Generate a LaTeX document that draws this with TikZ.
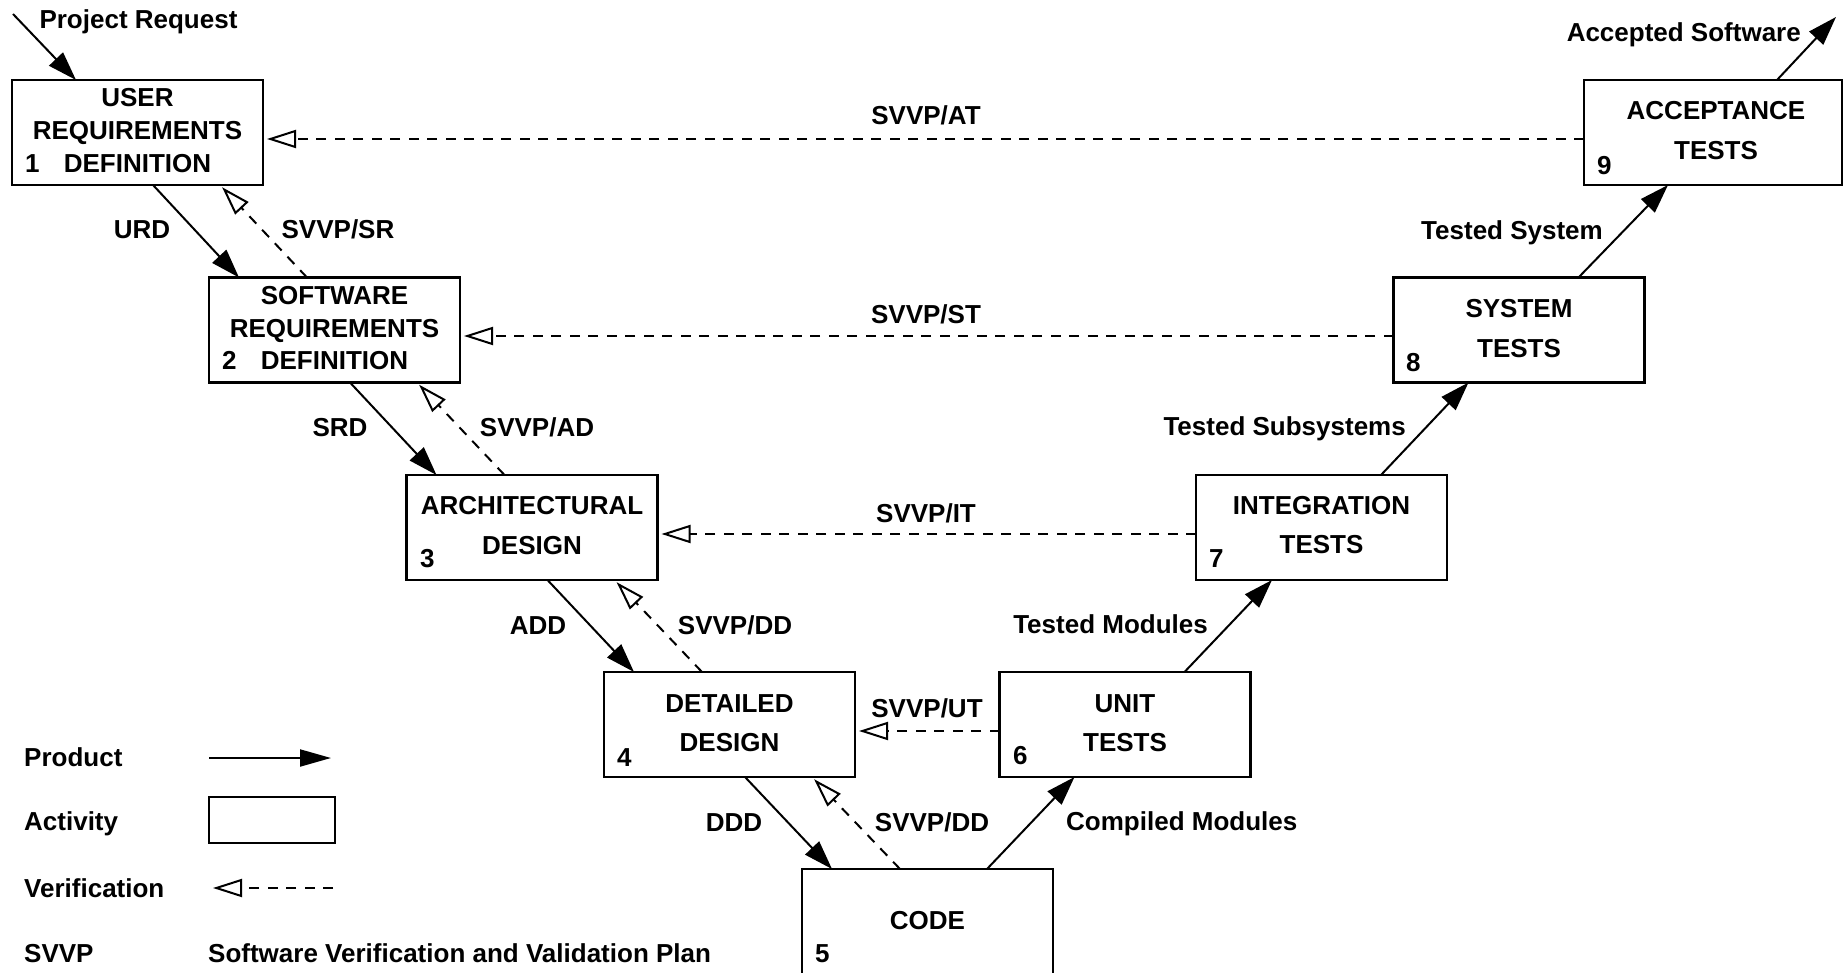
\documentclass[tikz,border=0pt]{standalone}
\usepackage{fontspec}
\setmainfont{Liberation Sans}
\usetikzlibrary{arrows.meta}
\begin{document}
\begin{tikzpicture}[x=1pt,y=-1pt,
  font=\fontsize{26}{31}\selectfont\bfseries,
  act/.style={draw, line width=2.1pt, minimum width=251pt, minimum height=105pt, inner sep=0pt, outer sep=0pt},
  txt/.style={inner sep=0pt, anchor=base},
  num/.style={inner sep=0pt, anchor=base west},
  rlab/.style={inner sep=0pt, anchor=base east},
  llab/.style={inner sep=0pt, anchor=base west},
  prod/.style={line width=2pt, -{Triangle[length=29pt,width=19pt]}},
  verif/.style={line width=2pt, dash pattern=on 10pt off 8.5pt, -{Triangle[open,length=29pt,width=18pt]}},
  vgap/.style={shorten >=4pt}]
\useasboundingbox (0,0) rectangle (1845,973);

% activity boxes
\node[act] (b1) at (137.5,132.5) {};
\node[act] (b2) at (334.5,330) {};
\node[act] (b3) at (532,527.5) {};
\node[act] (b4) at (729.5,724.5) {};
\node[act, minimum height=110pt] (b5) at (927.5,924) {};
\node[act] (b6) at (1125,724.5) {};
\node[act] (b7) at (1321.5,527.5) {};
\node[act] (b8) at (1519,330) {};
\node[act, minimum width=258pt] (b9) at (1713,132.5) {};

% box texts
\node[txt] (t1a) at (137.5,106.3) {USER};
\node[txt] (t1b) at (137.5,139.3) {REQUIREMENTS};
\node[txt] (t1c) at (137.5,172.3) {DEFINITION};
\node[num] (n1) at (25,172.3) {1};

\node[txt] (t2a) at (334.5,304.3) {SOFTWARE};
\node[txt] (t2b) at (334.5,337.3) {REQUIREMENTS};
\node[txt] (t2c) at (334.5,369.3) {DEFINITION};
\node[num] (n2) at (222,369.3) {2};

\node[txt] (t3a) at (532,514.3) {ARCHITECTURAL};
\node[txt] (t3b) at (532,554.3) {DESIGN};
\node[num] (n3) at (420,567.3) {3};

\node[txt] (t4a) at (729.5,712.3) {DETAILED};
\node[txt] (t4b) at (729.5,751.3) {DESIGN};
\node[num] (n4) at (617,766.3) {4};

\node[txt] (t5a) at (927.5,929.3) {CODE};
\node[num] (n5) at (815,962.3) {5};

\node[txt] (t6a) at (1125,712.3) {UNIT};
\node[txt] (t6b) at (1125,751.3) {TESTS};
\node[num] (n6) at (1013,764.3) {6};

\node[txt] (t7a) at (1321.5,514.3) {INTEGRATION};
\node[txt] (t7b) at (1321.5,553.3) {TESTS};
\node[num] (n7) at (1209,567.3) {7};

\node[txt] (t8a) at (1519,317.3) {SYSTEM};
\node[txt] (t8b) at (1519,357.3) {TESTS};
\node[num] (n8) at (1406,371.3) {8};

\node[txt] (t9a) at (1716,119.3) {ACCEPTANCE};
\node[txt] (t9b) at (1716,159.3) {TESTS};
\node[num] (n9) at (1597,174.3) {9};

% free ends
\coordinate (pin) at (13,14);
\coordinate (pout) at (1836,17);

% product arrows (down)
\draw[prod] (pin) -- ([xshift=64pt]b1.north west);
\draw[prod] ([xshift=141pt]b1.south west) -- ([xshift=30pt]b2.north west);
\draw[prod] ([xshift=141pt]b2.south west) -- ([xshift=30pt]b3.north west);
\draw[prod] ([xshift=141pt]b3.south west) -- ([xshift=30pt]b4.north west);
\draw[prod] ([xshift=141pt]b4.south west) -- ([xshift=30pt]b5.north west);
% product arrows (up)
\draw[prod] ([xshift=185pt]b5.north west) -- ([xshift=75pt]b6.south west);
\draw[prod] ([xshift=185pt]b6.north west) -- ([xshift=76pt]b7.south west);
\draw[prod] ([xshift=185pt]b7.north west) -- ([xshift=75pt]b8.south west);
\draw[prod] ([xshift=185pt]b8.north west) -- ([xshift=84pt]b9.south west);
\draw[prod] ([xshift=193pt]b9.north west) -- (pout);

% verification (diagonal)
\draw[verif, shorten >=3pt] ([xshift=98pt]b2.north west) -- ([xshift=208pt]b1.south west);
\draw[verif, shorten >=3pt] ([xshift=98pt]b3.north west) -- ([xshift=208pt]b2.south west);
\draw[verif, shorten >=3pt] ([xshift=98pt]b4.north west) -- ([xshift=208pt]b3.south west);
\draw[verif, shorten >=3pt] ([xshift=98pt]b5.north west) -- ([xshift=208pt]b4.south west);

% verification (horizontal)
\draw[verif, vgap] ([yshift=-6.5pt]b9.west) -- ([yshift=-6.5pt]b1.east);
\draw[verif, vgap] ([yshift=-6pt]b8.west) -- ([yshift=-6pt]b2.east);
\draw[verif, vgap] ([yshift=-6.5pt]b7.west) -- ([yshift=-6.5pt]b3.east);
\draw[verif, vgap] ([yshift=-6.5pt]b6.west) -- ([yshift=-6.5pt]b4.east);

% labels
\node[txt] (lpr) at (138.5,28.3) {Project Request};
\node[txt] (lurd) at (142,238.3) {URD};
\node[txt] (lsr) at (338,238.3) {SVVP/SR};
\node[txt] (lsrd) at (340,436.3) {SRD};
\node[txt] (lad) at (537,436.3) {SVVP/AD};
\node[txt] (ladd) at (538,634.3) {ADD};
\node[txt] (ldd1) at (735,634.3) {SVVP/DD};
\node[txt] (lddd) at (734,831.3) {DDD};
\node[txt] (ldd2) at (932,831.3) {SVVP/DD};
\node[txt] (lat) at (926,124.3) {SVVP/AT};
\node[txt] (lst) at (926,323.3) {SVVP/ST};
\node[txt] (lit) at (926,522.3) {SVVP/IT};
\node[txt] (lut) at (927,717.3) {SVVP/UT};
\node[rlab] (ltsy) at (1603,239.3) {Tested System};
\node[rlab] (ltss) at (1406,435.3) {Tested Subsystems};
\node[rlab] (ltm) at (1208,633.3) {Tested Modules};
\node[llab] (lcm) at (1066,830.3) {Compiled Modules};
\node[rlab] (las) at (1801,41.8) {Accepted Software};

% legend
\node[llab] (gp) at (24,766.3) {Product};
\node[llab] (ga) at (24,830.3) {Activity};
\node[llab] (gv) at (24,897.3) {Verification};
\node[llab] (gs) at (24,962.3) {SVVP};
\node[llab] (gsd) at (208,962.3) {Software Verification and Validation Plan};
\coordinate (gp1) at (209,758);
\coordinate (gp2) at (331,758);
\draw[line width=2pt, -{Triangle[length=31pt,width=17pt]}] (gp1) -- (gp2);
\node[act, minimum width=126pt, minimum height=46pt] (gbox) at (272,820) {};
\coordinate (gv1) at (333,888);
\coordinate (gv2) at (213,888);
\draw[verif] (gv1) -- (gv2);
\end{tikzpicture}
\end{document}
